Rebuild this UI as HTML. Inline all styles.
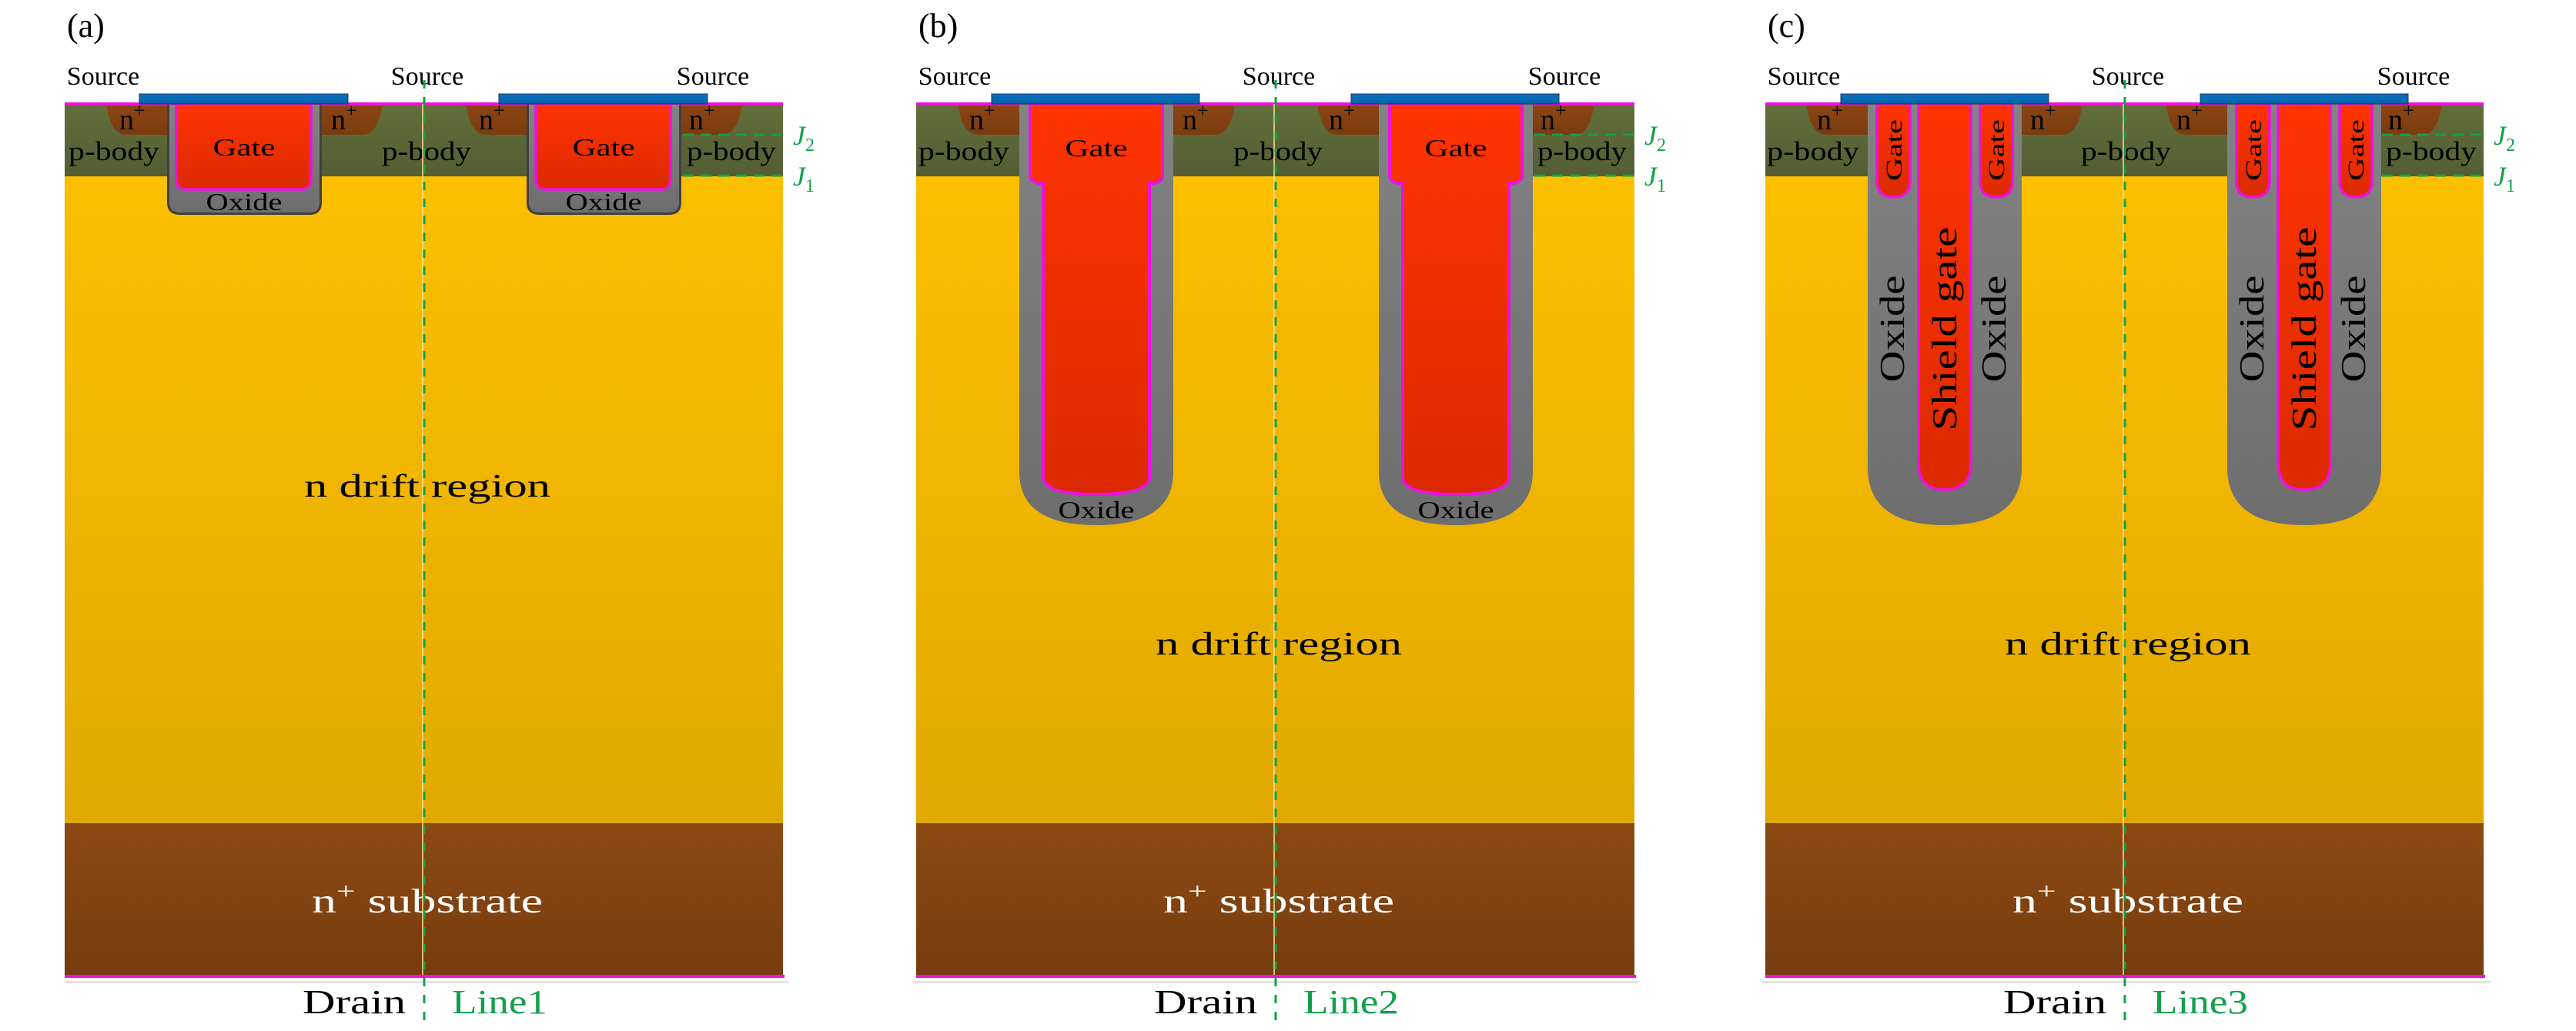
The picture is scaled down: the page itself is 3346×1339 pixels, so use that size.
<!DOCTYPE html>
<html><head><meta charset="utf-8"><style>
html,body{margin:0;padding:0;background:#fff;}
svg{display:block;}
text{font-family:"Liberation Serif",serif;}
</style></head><body>
<svg width="3346" height="1339" viewBox="0 0 3346 1339" xmlns="http://www.w3.org/2000/svg">
<defs>
<linearGradient id="drift" x1="0" y1="0" x2="0" y2="1"><stop offset="0" stop-color="#fcc000"/><stop offset="1" stop-color="#e1a900"/></linearGradient>
<linearGradient id="sub" x1="0" y1="0" x2="0" y2="1"><stop offset="0" stop-color="#8c4a12"/><stop offset="1" stop-color="#763c10"/></linearGradient>
<linearGradient id="pb" x1="0" y1="0" x2="0" y2="1"><stop offset="0" stop-color="#626f39"/><stop offset="1" stop-color="#545d34"/></linearGradient>
<linearGradient id="np" x1="0" y1="0" x2="0" y2="1"><stop offset="0" stop-color="#8d4513"/><stop offset="1" stop-color="#7a3c10"/></linearGradient>
<linearGradient id="ox" x1="0" y1="0" x2="0" y2="1"><stop offset="0" stop-color="#838383"/><stop offset="1" stop-color="#6e6e6e"/></linearGradient>
<linearGradient id="gt" x1="0" y1="0" x2="0" y2="1"><stop offset="0" stop-color="#ff3300"/><stop offset="1" stop-color="#dc2a00"/></linearGradient>
<linearGradient id="mt" x1="0" y1="0" x2="0" y2="1"><stop offset="0" stop-color="#0a72c2"/><stop offset="1" stop-color="#0061a6"/></linearGradient>
</defs>

<g transform="translate(84,0)">
  <rect x="0" y="135" width="933" height="94" fill="url(#pb)"/>
  <rect x="0" y="229" width="933" height="840" fill="url(#drift)"/>
  <rect x="0" y="1069" width="933" height="199" fill="url(#sub)"/>
  <rect x="0" y="1266" width="935" height="4" fill="#ee11dd"/>
  <rect x="0" y="1274" width="941" height="3" fill="#e4e4e4"/>
  <path d="M54,135 H133 V175 H80 Q60,175 54,135 Z" fill="url(#np)"/>
  <path d="M334,135 H413 Q407,175 387,175 H334 Z" fill="url(#np)"/>
  <path d="M521,135 H600 V175 H547 Q527,175 521,135 Z" fill="url(#np)"/>
  <path d="M801,135 H880 Q874,175 854,175 H801 Z" fill="url(#np)"/>
  <rect x="0" y="133" width="933" height="4" fill="#ee11dd"/>
  <path d="M134.5,136 V263 Q134.5,277.5 150,277.5 H318 Q332.5,277.5 332.5,263 V136" fill="url(#ox)" stroke="#404040" stroke-width="3"/>
  <path d="M145,135 H320 V233 Q320,246 307,246 H158 Q145,246 145,233 Z" fill="url(#gt)" stroke="#ee11dd" stroke-width="3.5"/>
  <path d="M601.5,136 V263 Q601.5,277.5 617,277.5 H785 Q799.5,277.5 799.5,263 V136" fill="url(#ox)" stroke="#404040" stroke-width="3"/>
  <path d="M612,135 H787 V233 Q787,246 774,246 H625 Q612,246 612,233 Z" fill="url(#gt)" stroke="#ee11dd" stroke-width="3.5"/>
  <rect x="97" y="122" width="271" height="13" fill="url(#mt)" stroke="#235" stroke-width="1"/>
  <rect x="564" y="122" width="271" height="13" fill="url(#mt)" stroke="#235" stroke-width="1"/>
  <line x1="803" y1="175" x2="939" y2="175" stroke="#12a04a" stroke-width="3" stroke-dasharray="14,9"/>
  <line x1="803" y1="228" x2="939" y2="228" stroke="#12a04a" stroke-width="3" stroke-dasharray="14,9"/>
  <text x="946" y="188" font-size="36" font-style="italic" fill="#12a04a">J<tspan font-size="24" font-style="normal" dy="8">2</tspan></text>
  <text x="946" y="241" font-size="36" font-style="italic" fill="#12a04a">J<tspan font-size="24" font-style="normal" dy="8">1</tspan></text>
  <text x="3" y="48" font-size="44">(a)</text>
  <text x="50" y="110" font-size="34" text-anchor="middle">Source</text>
  <text x="471" y="110" font-size="34" text-anchor="middle">Source</text>
  <text x="842" y="110" font-size="34" text-anchor="middle">Source</text>
  <text x="5" y="208" font-size="35" textLength="118" lengthAdjust="spacingAndGlyphs">p-body</text>
  <text x="412" y="208" font-size="35" textLength="116" lengthAdjust="spacingAndGlyphs">p-body</text>
  <text x="808" y="208" font-size="35" textLength="116" lengthAdjust="spacingAndGlyphs">p-body</text>
  <text x="71" y="168" font-size="38">n<tspan font-size="26" dy="-16">+</tspan></text>
  <text x="346" y="168" font-size="38">n<tspan font-size="26" dy="-16">+</tspan></text>
  <text x="538" y="168" font-size="38">n<tspan font-size="26" dy="-16">+</tspan></text>
  <text x="811" y="168" font-size="38">n<tspan font-size="26" dy="-16">+</tspan></text>
  <text x="233" y="202" font-size="32" text-anchor="middle" textLength="81" lengthAdjust="spacingAndGlyphs">Gate</text>
  <text x="700" y="202" font-size="32" text-anchor="middle" textLength="81" lengthAdjust="spacingAndGlyphs">Gate</text>
  <text x="233" y="273" font-size="32" text-anchor="middle" textLength="99" lengthAdjust="spacingAndGlyphs">Oxide</text>
  <text x="700" y="273" font-size="32" text-anchor="middle" textLength="99" lengthAdjust="spacingAndGlyphs">Oxide</text>
  <text x="471" y="645" font-size="42" text-anchor="middle" textLength="320" lengthAdjust="spacingAndGlyphs">n drift region</text>
  <text x="471" y="1185" font-size="44" text-anchor="middle" fill="#fff" textLength="300" lengthAdjust="spacingAndGlyphs">n<tspan font-size="30" dy="-18">+</tspan><tspan dy="18"> substrate</tspan></text>
  <line x1="465" y1="135" x2="465" y2="1266" stroke="#ffe28a" stroke-width="1.5"/>
  <line x1="467" y1="104" x2="467" y2="1325" stroke="#12a04a" stroke-width="3" stroke-dasharray="11,11"/>
  <text x="443" y="1316" font-size="44" text-anchor="end" textLength="134" lengthAdjust="spacingAndGlyphs">Drain</text>
  <text x="503" y="1316" font-size="44" fill="#12a04a" textLength="124" lengthAdjust="spacingAndGlyphs">Line1</text>
</g>

<g transform="translate(1190,0)">
  <rect x="0" y="135" width="933" height="94" fill="url(#pb)"/>
  <rect x="0" y="229" width="933" height="840" fill="url(#drift)"/>
  <rect x="0" y="1069" width="933" height="199" fill="url(#sub)"/>
  <rect x="0" y="1266" width="935" height="4" fill="#ee11dd"/>
  <rect x="-4" y="1274" width="943" height="3" fill="#e4e4e4"/>
  <path d="M54,135 H134 V175 H80 Q60,175 54,135 Z" fill="url(#np)"/>
  <path d="M334,135 H414 Q408,175 388,175 H334 Z" fill="url(#np)"/>
  <path d="M521,135 H601 V175 H547 Q527,175 521,135 Z" fill="url(#np)"/>
  <path d="M801,135 H881 Q875,175 855,175 H801 Z" fill="url(#np)"/>
  <rect x="0" y="133" width="933" height="4" fill="#ee11dd"/>
  <path d="M134,135 V613 Q134,682 234,682 Q334,682 334,613 V135 Z" fill="url(#ox)"/>
  <path d="M148,135 H320 V226 Q320,238 306,238 H303 V619 Q303,642 234,642 Q165,642 165,619 V238 H162 Q148,238 148,226 Z" fill="url(#gt)" stroke="#ee11dd" stroke-width="4"/>
  <path d="M601,135 V613 Q601,682 701,682 Q801,682 801,613 V135 Z" fill="url(#ox)"/>
  <path d="M615,135 H787 V226 Q787,238 773,238 H770 V619 Q770,642 701,642 Q632,642 632,619 V238 H629 Q615,238 615,226 Z" fill="url(#gt)" stroke="#ee11dd" stroke-width="4"/>
  <rect x="98" y="122" width="270" height="13" fill="url(#mt)" stroke="#235" stroke-width="1"/>
  <rect x="565" y="122" width="270" height="13" fill="url(#mt)" stroke="#235" stroke-width="1"/>
  <line x1="803" y1="175" x2="939" y2="175" stroke="#12a04a" stroke-width="3" stroke-dasharray="14,9"/>
  <line x1="803" y1="228" x2="939" y2="228" stroke="#12a04a" stroke-width="3" stroke-dasharray="14,9"/>
  <text x="946" y="188" font-size="36" font-style="italic" fill="#12a04a">J<tspan font-size="24" font-style="normal" dy="8">2</tspan></text>
  <text x="946" y="241" font-size="36" font-style="italic" fill="#12a04a">J<tspan font-size="24" font-style="normal" dy="8">1</tspan></text>
  <text x="3" y="48" font-size="44">(b)</text>
  <text x="50" y="110" font-size="34" text-anchor="middle">Source</text>
  <text x="471" y="110" font-size="34" text-anchor="middle">Source</text>
  <text x="842" y="110" font-size="34" text-anchor="middle">Source</text>
  <text x="3" y="208" font-size="35" textLength="118" lengthAdjust="spacingAndGlyphs">p-body</text>
  <text x="412" y="208" font-size="35" textLength="116" lengthAdjust="spacingAndGlyphs">p-body</text>
  <text x="807" y="208" font-size="35" textLength="116" lengthAdjust="spacingAndGlyphs">p-body</text>
  <text x="69" y="168" font-size="38">n<tspan font-size="26" dy="-16">+</tspan></text>
  <text x="346" y="168" font-size="38">n<tspan font-size="26" dy="-16">+</tspan></text>
  <text x="536" y="168" font-size="38">n<tspan font-size="26" dy="-16">+</tspan></text>
  <text x="811" y="168" font-size="38">n<tspan font-size="26" dy="-16">+</tspan></text>
  <text x="234" y="203" font-size="32" text-anchor="middle" textLength="81" lengthAdjust="spacingAndGlyphs">Gate</text>
  <text x="701" y="203" font-size="32" text-anchor="middle" textLength="81" lengthAdjust="spacingAndGlyphs">Gate</text>
  <text x="234" y="673" font-size="32" text-anchor="middle" textLength="99" lengthAdjust="spacingAndGlyphs">Oxide</text>
  <text x="701" y="673" font-size="32" text-anchor="middle" textLength="99" lengthAdjust="spacingAndGlyphs">Oxide</text>
  <text x="471" y="850" font-size="42" text-anchor="middle" textLength="320" lengthAdjust="spacingAndGlyphs">n drift region</text>
  <text x="471" y="1185" font-size="44" text-anchor="middle" fill="#fff" textLength="300" lengthAdjust="spacingAndGlyphs">n<tspan font-size="30" dy="-18">+</tspan><tspan dy="18"> substrate</tspan></text>
  <line x1="465" y1="135" x2="465" y2="1266" stroke="#ffe28a" stroke-width="1.5"/>
  <line x1="467" y1="104" x2="467" y2="1325" stroke="#12a04a" stroke-width="3" stroke-dasharray="11,11"/>
  <text x="443" y="1316" font-size="44" text-anchor="end" textLength="134" lengthAdjust="spacingAndGlyphs">Drain</text>
  <text x="503" y="1316" font-size="44" fill="#12a04a" textLength="124" lengthAdjust="spacingAndGlyphs">Line2</text>
</g>

<g transform="translate(2293,0)">
  <rect x="0" y="135" width="933" height="94" fill="url(#pb)"/>
  <rect x="0" y="229" width="933" height="840" fill="url(#drift)"/>
  <rect x="0" y="1069" width="933" height="199" fill="url(#sub)"/>
  <rect x="0" y="1266" width="935" height="4" fill="#ee11dd"/>
  <rect x="-4" y="1274" width="947" height="3" fill="#e4e4e4"/>
  <path d="M53,135 H133 V175 H79 Q59,175 53,135 Z" fill="url(#np)"/>
  <path d="M332,135 H412 Q406,175 386,175 H332 Z" fill="url(#np)"/>
  <path d="M520,135 H600 V175 H546 Q526,175 520,135 Z" fill="url(#np)"/>
  <path d="M799,135 H879 Q873,175 853,175 H799 Z" fill="url(#np)"/>
  <rect x="0" y="133" width="933" height="4" fill="#ee11dd"/>
  <path d="M133,135 V607 Q133,682 233,682 Q333,682 333,607 V135 Z" fill="url(#ox)"/>
  <path d="M145,135 H188 V235 Q188,256 166.5,256 Q145,256 145,235 Z" fill="url(#gt)" stroke="#ee11dd" stroke-width="3.5"/>
  <path d="M199,135 H267 V602 Q267,636 233,636 Q199,636 199,602 Z" fill="url(#gt)" stroke="#ee11dd" stroke-width="3.5"/>
  <path d="M279,135 H321 V235 Q321,256 300,256 Q279,256 279,235 Z" fill="url(#gt)" stroke="#ee11dd" stroke-width="3.5"/>
  <path d="M600,135 V607 Q600,682 700,682 Q800,682 800,607 V135 Z" fill="url(#ox)"/>
  <path d="M612,135 H655 V235 Q655,256 633.5,256 Q612,256 612,235 Z" fill="url(#gt)" stroke="#ee11dd" stroke-width="3.5"/>
  <path d="M666,135 H734 V602 Q734,636 700,636 Q666,636 666,602 Z" fill="url(#gt)" stroke="#ee11dd" stroke-width="3.5"/>
  <path d="M746,135 H788 V235 Q788,256 767,256 Q746,256 746,235 Z" fill="url(#gt)" stroke="#ee11dd" stroke-width="3.5"/>
  <rect x="98" y="122" width="270" height="13" fill="url(#mt)" stroke="#235" stroke-width="1"/>
  <rect x="565" y="122" width="270" height="13" fill="url(#mt)" stroke="#235" stroke-width="1"/>
  <line x1="801" y1="175" x2="939" y2="175" stroke="#12a04a" stroke-width="3" stroke-dasharray="14,9"/>
  <line x1="801" y1="228" x2="939" y2="228" stroke="#12a04a" stroke-width="3" stroke-dasharray="14,9"/>
  <text x="946" y="188" font-size="36" font-style="italic" fill="#12a04a">J<tspan font-size="24" font-style="normal" dy="8">2</tspan></text>
  <text x="946" y="241" font-size="36" font-style="italic" fill="#12a04a">J<tspan font-size="24" font-style="normal" dy="8">1</tspan></text>
  <text x="3" y="48" font-size="44">(c)</text>
  <text x="50" y="110" font-size="34" text-anchor="middle">Source</text>
  <text x="471" y="110" font-size="34" text-anchor="middle">Source</text>
  <text x="842" y="110" font-size="34" text-anchor="middle">Source</text>
  <text x="2" y="208" font-size="35" textLength="120" lengthAdjust="spacingAndGlyphs">p-body</text>
  <text x="410" y="208" font-size="35" textLength="117" lengthAdjust="spacingAndGlyphs">p-body</text>
  <text x="806" y="208" font-size="35" textLength="118" lengthAdjust="spacingAndGlyphs">p-body</text>
  <text x="67" y="168" font-size="38">n<tspan font-size="26" dy="-16">+</tspan></text>
  <text x="344" y="168" font-size="38">n<tspan font-size="26" dy="-16">+</tspan></text>
  <text x="534" y="168" font-size="38">n<tspan font-size="26" dy="-16">+</tspan></text>
  <text x="809" y="168" font-size="38">n<tspan font-size="26" dy="-16">+</tspan></text>
  <text transform="translate(177,195) rotate(-90)" font-size="30" text-anchor="middle" textLength="80" lengthAdjust="spacingAndGlyphs">Gate</text>
  <text transform="translate(310,195) rotate(-90)" font-size="30" text-anchor="middle" textLength="80" lengthAdjust="spacingAndGlyphs">Gate</text>
  <text transform="translate(180,427) rotate(-90)" font-size="46" text-anchor="middle" textLength="139" lengthAdjust="spacingAndGlyphs">Oxide</text>
  <text transform="translate(312,427) rotate(-90)" font-size="46" text-anchor="middle" textLength="139" lengthAdjust="spacingAndGlyphs">Oxide</text>
  <text transform="translate(248,427) rotate(-90)" font-size="46" text-anchor="middle" textLength="265" lengthAdjust="spacingAndGlyphs">Shield gate</text>
  <text transform="translate(644,195) rotate(-90)" font-size="30" text-anchor="middle" textLength="80" lengthAdjust="spacingAndGlyphs">Gate</text>
  <text transform="translate(777,195) rotate(-90)" font-size="30" text-anchor="middle" textLength="80" lengthAdjust="spacingAndGlyphs">Gate</text>
  <text transform="translate(647,427) rotate(-90)" font-size="46" text-anchor="middle" textLength="139" lengthAdjust="spacingAndGlyphs">Oxide</text>
  <text transform="translate(779,427) rotate(-90)" font-size="46" text-anchor="middle" textLength="139" lengthAdjust="spacingAndGlyphs">Oxide</text>
  <text transform="translate(715,427) rotate(-90)" font-size="46" text-anchor="middle" textLength="265" lengthAdjust="spacingAndGlyphs">Shield gate</text>
  <text x="471" y="850" font-size="42" text-anchor="middle" textLength="320" lengthAdjust="spacingAndGlyphs">n drift region</text>
  <text x="471" y="1185" font-size="44" text-anchor="middle" fill="#fff" textLength="300" lengthAdjust="spacingAndGlyphs">n<tspan font-size="30" dy="-18">+</tspan><tspan dy="18"> substrate</tspan></text>
  <line x1="465" y1="135" x2="465" y2="1266" stroke="#ffe28a" stroke-width="1.5"/>
  <line x1="467" y1="104" x2="467" y2="1325" stroke="#12a04a" stroke-width="3" stroke-dasharray="11,11"/>
  <text x="443" y="1316" font-size="44" text-anchor="end" textLength="134" lengthAdjust="spacingAndGlyphs">Drain</text>
  <text x="503" y="1316" font-size="44" fill="#12a04a" textLength="124" lengthAdjust="spacingAndGlyphs">Line3</text>
</g>
</svg>
</body></html>
